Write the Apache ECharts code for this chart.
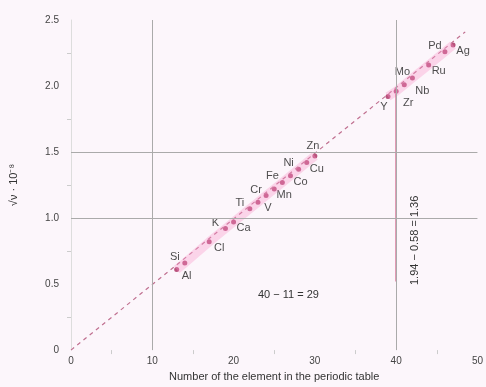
<!DOCTYPE html>
<html>
<head>
<meta charset="utf-8">
<script src="https://cdn.jsdelivr.net/npm/echarts@6/dist/echarts.min.js"></script>
<style>
  html, body { margin: 0; padding: 0; background: #fcf6fb; }
  #chart { width: 486px; height: 387px; }
</style>
</head>
<body>
<div id="chart"></div>
<script>
// element symbols, atomic numbers and values
const elements = ['Al', 'Si', 'Cl', 'K', 'Ca', 'Ti', 'V', 'Cr', 'Mn', 'Fe', 'Co', 'Ni', 'Cu', 'Zn',
  'Y', 'Zr', 'Nb', 'Mo', 'Ru', 'Pd', 'Ag'];
const atomicNumbers = [13, 14, 17, 19, 20, 22, 23, 24, 25, 26, 27, 28, 29, 30, 39, 40, 41, 42, 44, 46, 47];
const values = [0.61, 0.66, 0.82, 0.92, 0.97, 1.07, 1.12, 1.17, 1.22, 1.27, 1.32, 1.37, 1.42, 1.47,
  1.92, 1.96, 2.01, 2.06, 2.16, 2.26, 2.31];
// label side for each element
const labelSides = ['right', 'left', 'right', 'left', 'right', 'left', 'right', 'left', 'right', 'left',
  'right', 'left', 'right', 'top', 'below', 'belowRight', 'farRight', 'left', 'right', 'left', 'right'];
const fitLine = [[0, 0], [48.5, 2.41]];
const diffLine = [[40, 1.94], [40, 0.52]];
const xTicks = [0, 10, 20, 30, 40, 50];
const yTicks = [0, 0.5, 1.0, 1.5, 2.0, 2.5];

const chart = echarts.init(document.getElementById('chart'));

const offsets = {
  right: [10, 6], left: [-10, -6], top: [-2, -10],
  below: [-4, 10], belowRight: [12, 12], farRight: [18, 6]
};

const points = atomicNumbers.map((z, i) => ({
  value: [z, values[i]],
  label: {
    show: true,
    formatter: elements[i],
    position: 'inside',
    offset: offsets[labelSides[i]],
    color: '#222',
    fontSize: 11
  }
}));

const groupA = points.slice(0, 14).map(p => p.value);
const groupB = points.slice(14).map(p => p.value);

const option = {
  backgroundColor: '#fcf6fb',
  animation: false,
  grid: { left: 70, right: 2, top: 20, bottom: 33 },
  xAxis: {
    type: 'value', min: 0, max: 50, interval: 10,
    axisLine: { show: false },
    axisTick: { show: false },
    minorTick: { show: true, splitNumber: 2, length: 4, lineStyle: { color: '#ccc' } },
    splitLine: { show: false },
    axisLabel: {
      color: '#444', fontSize: 10, margin: 6,
      formatter: v => xTicks.includes(v) ? String(v) : ''
    },
    name: 'Number of the element in the periodic table',
    nameLocation: 'middle', nameGap: 20,
    nameTextStyle: { color: '#333', fontSize: 11 }
  },
  yAxis: {
    type: 'value', min: 0, max: 2.5, interval: 0.5,
    axisLine: { show: true, lineStyle: { color: '#ddd' } },
    axisTick: { show: false },
    minorTick: { show: true, splitNumber: 2, length: 4, lineStyle: { color: '#ccc' } },
    splitLine: { show: false },
    axisLabel: {
      color: '#444', fontSize: 10, margin: 12,
      formatter: v => yTicks.includes(v) ? (v === 0 ? '0' : v.toFixed(1)) : ''
    },
    name: '√ν · 10⁻⁸',
    nameLocation: 'middle', nameGap: 52, nameRotate: 90,
    nameTextStyle: { color: '#333', fontSize: 11 }
  },
  series: [
    {
      type: 'line', data: [], silent: true,
      markLine: {
        symbol: 'none', silent: true,
        label: { show: false },
        lineStyle: { color: '#aaa', type: 'solid', width: 1 },
        data: [{ xAxis: 10 }, { xAxis: 40 }, { yAxis: 1.0 }, { yAxis: 1.5 }]
      }
    },
    {
      type: 'line', data: fitLine, symbol: 'none', silent: true,
      lineStyle: { color: '#c07090', width: 1.2, type: [4, 4] }
    },
    {
      type: 'line', data: groupA, symbol: 'none', silent: true,
      lineStyle: { color: 'rgba(250,150,200,0.35)', width: 9 }
    },
    {
      type: 'line', data: groupB, symbol: 'none', silent: true,
      lineStyle: { color: 'rgba(250,150,200,0.35)', width: 9 }
    },
    {
      type: 'line', data: diffLine, symbol: 'none', silent: true,
      lineStyle: { color: '#d06088', width: 1.5 }
    },
    {
      type: 'scatter', data: points, symbolSize: 5,
      itemStyle: { color: '#a8285c' }
    }
  ],
  graphic: [
    {
      type: 'text', left: 258, top: 289,
      style: { text: '40 − 11 = 29', fill: '#333', font: '11px sans-serif' }
    },
    {
      type: 'text', x: 409, y: 285, rotation: Math.PI / 2,
      style: { text: '1.94 − 0.58 = 1.36', fill: '#333', font: '11px sans-serif' }
    }
  ]
};

chart.setOption(option);
</script>
</body>
</html>
